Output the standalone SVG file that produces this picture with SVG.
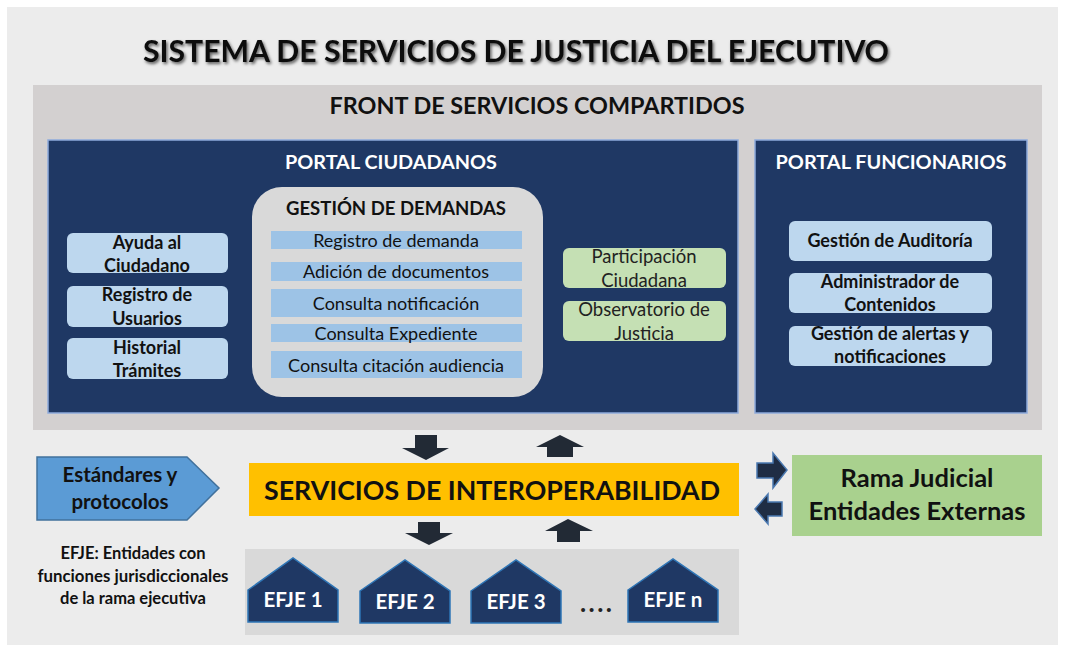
<svg xmlns="http://www.w3.org/2000/svg" width="1065" height="651" viewBox="0 0 1065 651">
<defs>
<filter id="shadow" x="-5%" y="-30%" width="110%" height="160%">
<feDropShadow dx="1.5" dy="2" stdDeviation="1.8" flood-color="#000" flood-opacity="0.6"/>
</filter>
<style>
text{font-family:Lato,"Open Sans","Liberation Sans",sans-serif;text-anchor:middle}
.b{font-weight:bold}
.panel{fill:#1f3864;stroke:#8eaadb;stroke-width:1.5}
.ptitle{fill:#fff;font-weight:bold;font-size:19px}
.lb{fill:#bdd7ee}
.lbt{font-weight:bold;font-size:18px;fill:#111}
.bar{fill:#9dc3e6}
.bart{font-size:18px;fill:#111}
.gr{fill:#c5e0b4}
.grt{font-size:18.5px;fill:#222}
.arr{fill:#222a35}
.sarr{fill:#1f2d44;stroke:#4a78b0;stroke-width:1.5}
.house{fill:#1f3864;stroke:#2e75b6;stroke-width:1.5}
.ht{fill:#fff;font-weight:bold;font-size:20.5px}
</style>
</defs>
<rect x="0" y="0" width="1065" height="651" fill="#fff"/>
<rect x="7" y="7" width="1051" height="638" fill="#ececec"/>
<g id="title">
<text x="516" y="62" class="b" font-size="31" textLength="746" lengthAdjust="spacingAndGlyphs" fill="#111" filter="url(#shadow)">SISTEMA DE SERVICIOS DE JUSTICIA DEL EJECUTIVO</text>
</g>
<g id="front">
<rect x="33" y="85" width="1009" height="345" fill="#d3d0d0"/>
<text x="537" y="114" class="b" font-size="22" textLength="415" lengthAdjust="spacingAndGlyphs" fill="#111">FRONT DE SERVICIOS COMPARTIDOS</text>
</g>
<g id="portal-ciudadanos">
<rect class="panel" x="48" y="140" width="690" height="273"/>
<text class="ptitle" x="391" y="169" textLength="212" lengthAdjust="spacingAndGlyphs">PORTAL CIUDADANOS</text>
</g>
<g id="ayuda">
<rect class="lb" x="67" y="233" width="161" height="40" rx="6"/>
<text class="lbt" x="147" y="249">Ayuda al</text>
<text class="lbt" x="147" y="272">Ciudadano</text>
</g>
<g id="registro-usuarios">
<rect class="lb" x="67" y="286" width="161" height="41" rx="6"/>
<text class="lbt" x="147" y="301">Registro de</text>
<text class="lbt" x="147" y="325">Usuarios</text>
</g>
<g id="historial">
<rect class="lb" x="67" y="338" width="161" height="41" rx="6"/>
<text class="lbt" x="147" y="354">Historial</text>
<text class="lbt" x="147" y="377">Trámites</text>
</g>
<g id="gestion-demandas">
<rect x="252" y="187" width="291" height="210" rx="30" fill="#d9d9d9"/>
<text x="396" y="215" class="b" font-size="18" fill="#111" textLength="220" lengthAdjust="spacingAndGlyphs">GESTIÓN DE DEMANDAS</text>
<rect class="bar" x="271" y="231" width="251" height="18"/>
<text class="bart" x="396" y="247">Registro de demanda</text>
<rect class="bar" x="271" y="262" width="251" height="19"/>
<text class="bart" x="396" y="278">Adición de documentos</text>
<rect class="bar" x="271" y="289" width="251" height="28"/>
<text class="bart" x="396" y="310">Consulta notificación</text>
<rect class="bar" x="271" y="324" width="251" height="18"/>
<text class="bart" x="396" y="340">Consulta Expediente</text>
<rect class="bar" x="271" y="351" width="251" height="27"/>
<text class="bart" x="396" y="372" textLength="216" lengthAdjust="spacingAndGlyphs">Consulta citación audiencia</text>
</g>
<g id="participacion">
<rect class="gr" x="563" y="248" width="163" height="40" rx="6"/>
<text class="grt" x="644" y="263">Participación</text>
<text class="grt" x="644" y="287">Ciudadana</text>
</g>
<g id="observatorio">
<rect class="gr" x="563" y="301" width="163" height="40" rx="6"/>
<text class="grt" x="644" y="316">Observatorio de</text>
<text class="grt" x="644" y="340">Justicia</text>
</g>
<g id="portal-funcionarios">
<rect class="panel" x="755" y="140" width="272" height="273"/>
<text class="ptitle" x="891" y="169" textLength="231" lengthAdjust="spacingAndGlyphs">PORTAL FUNCIONARIOS</text>
</g>
<g id="auditoria">
<rect class="lb" x="789" y="221" width="203" height="40" rx="6"/>
<text class="lbt" x="890" y="247">Gestión de Auditoría</text>
</g>
<g id="administrador">
<rect class="lb" x="789" y="273" width="203" height="40" rx="6"/>
<text class="lbt" x="890" y="288">Administrador de</text>
<text class="lbt" x="890" y="311">Contenidos</text>
</g>
<g id="alertas">
<rect class="lb" x="789" y="326" width="203" height="40" rx="6"/>
<text class="lbt" x="890" y="340">Gestión de alertas y</text>
<text class="lbt" x="890" y="363">notificaciones</text>
</g>
<g id="estandares">
<polygon points="37,457 187,457 219,488 187,520 37,520" fill="#5b9bd5" stroke="#41719c" stroke-width="1.5"/>
<text class="b" x="120" y="482" font-size="20.5" fill="#111">Estándares y</text>
<text class="b" x="120" y="509" font-size="20.5" fill="#111">protocolos</text>
</g>
<g id="interoperabilidad">
<rect x="249" y="463" width="490" height="53" fill="#ffc000"/>
<text class="b" x="492" y="500" font-size="27" fill="#111" textLength="456" lengthAdjust="spacingAndGlyphs">SERVICIOS DE INTEROPERABILIDAD</text>
</g>
<g id="rama-judicial">
<rect x="792" y="455" width="250" height="81" fill="#a9d18e"/>
<text class="b" x="917" y="487" font-size="25.5" fill="#111">Rama Judicial</text>
<text class="b" x="917" y="520" font-size="25.5" fill="#111" textLength="217" lengthAdjust="spacingAndGlyphs">Entidades Externas</text>
</g>
<g id="legend">
<text class="b" x="133" y="559" font-size="16.5" fill="#111">EFJE: Entidades con</text>
<text class="b" x="133" y="582" font-size="16.5" fill="#111" textLength="191" lengthAdjust="spacingAndGlyphs">funciones jurisdiccionales</text>
<text class="b" x="133" y="604" font-size="16.5" fill="#111">de la rama ejecutiva</text>
</g>
<g id="efje-panel">
<rect x="245" y="549" width="494" height="86" fill="#d9d9d9"/>
<text class="b" x="596" y="612" font-size="26" fill="#222" textLength="32" lengthAdjust="spacing">....</text>
</g>
<g id="efje1">
<polygon class="house" points="248,590 293,558 338,590 338,622 248,622"/>
<text class="ht" x="293" y="607">EFJE 1</text>
</g>
<g id="efje2">
<polygon class="house" points="360,591 405,560 450,591 450,623 360,623"/>
<text class="ht" x="405" y="609">EFJE 2</text>
</g>
<g id="efje3">
<polygon class="house" points="471,591 516,560 561,591 561,623 471,623"/>
<text class="ht" x="516" y="609">EFJE 3</text>
</g>
<g id="efjen">
<polygon class="house" points="628,590 673,559 718,590 718,622 628,622"/>
<text class="ht" x="673" y="607">EFJE n</text>
</g>
<g id="connectors">
<polygon class="arr" points="415,435 437,435 437,448 449,448 426,460 402,448 415,448"/>
<polygon class="arr" points="560,435 584,447 573,447 573,457 547,457 547,447 536,447"/>
<polygon class="arr" points="418,522 440,522 440,533 453,533 429,545 405,533 418,533"/>
<polygon class="arr" points="568,519 593,531 580,531 580,542 557,542 557,531 545,531"/>
<polygon class="sarr" points="757,463 773,463 773,453 787,470 773,488 773,478 757,478"/>
<polygon class="sarr" points="782,502 768,502 768,494 755,509 768,524 768,516 782,516"/>
</g>
</svg>
